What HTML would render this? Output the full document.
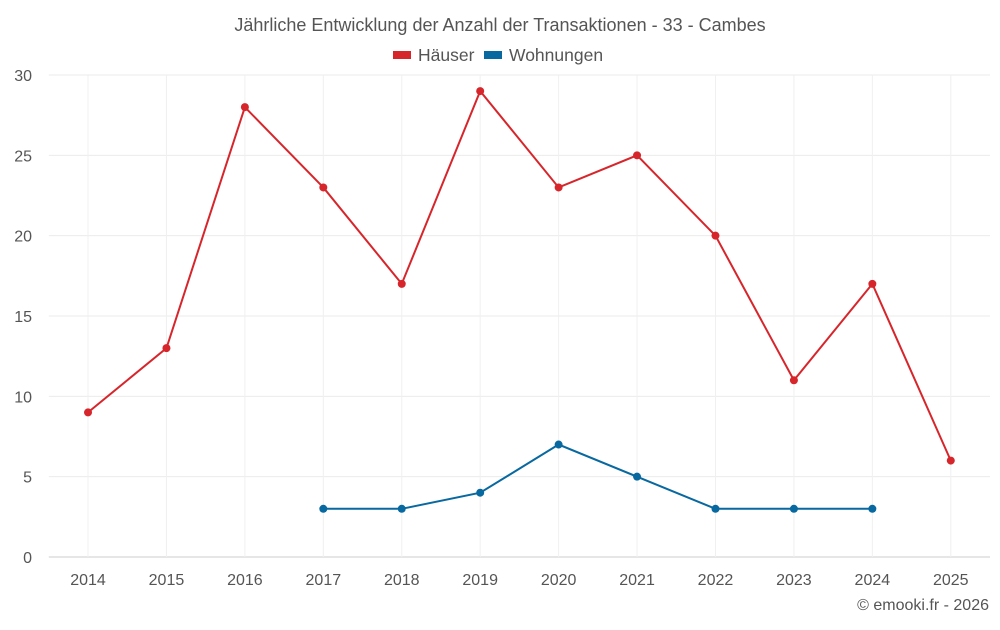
<!DOCTYPE html>
<html><head><meta charset="utf-8"><style>
body{margin:0;background:#fff;font-family:"Liberation Sans",sans-serif;}
svg text{font-family:"Liberation Sans",sans-serif;}
</style></head><body>
<svg id="c" width="1000" height="625" xmlns="http://www.w3.org/2000/svg">
<text x="500" y="31" text-anchor="middle" font-size="18" fill="#555">Jährliche Entwicklung der Anzahl der Transaktionen - 33 - Cambes</text>
<g>
<g><rect x="393" y="51" width="18" height="8" fill="#d7262b"/><text x="418" y="61" font-size="17.5" fill="#555">Häuser</text></g>
<g><rect x="484" y="51" width="18" height="8" fill="#0868a0"/><text x="509" y="61" font-size="17.5" fill="#555">Wohnungen</text></g>
</g>
<g id="grid"></g><g id="axes"></g><g id="series"></g>
<text x="989" y="610" text-anchor="end" font-size="16" fill="#555">© emooki.fr - 2026</text>
</svg>
<script>
const categories=["2014","2015","2016","2017","2018","2019","2020","2021","2022","2023","2024","2025"];
const hauser=[9,13,28,23,17,29,23,25,20,11,17,6];
const wohnungen=[null,null,null,3,3,4,7,5,3,3,3,null];
const yTicks=[0,5,10,15,20,25,30];
const NS="http://www.w3.org/2000/svg";
const L=48.8,R=990,T=75,B=557,yMax=30;
const step=(R-L)/categories.length;
const x=i=>L+step*(i+0.5);
const y=v=>B-(v/yMax)*(B-T);
function mk(tag,at,parent){const e=document.createElementNS(NS,tag);for(const k in at)e.setAttribute(k,at[k]);document.getElementById(parent).appendChild(e);return e;}
yTicks.forEach(t=>{
 const g=mk('line',{x1:L,x2:R,y1:y(t),y2:y(t),stroke:t===0?'#ccc':'#ebebeb','stroke-width':1},'grid');
 
 
 const tx=mk('text',{x:32,y:y(t)+6,'text-anchor':'end','font-size':16,fill:'#555'},'axes');tx.textContent=t;
 
 
});
categories.forEach((c,i)=>{
 const g=mk('line',{x1:x(i),x2:x(i),y1:T,y2:B,stroke:'#f0f0f0','stroke-width':1},'grid');
 
 
 const tx=mk('text',{x:x(i),y:585,'text-anchor':'middle','font-size':16,fill:'#555'},'axes');tx.textContent=c;
 
 
});
function series(data,color,name){
 let d='';let pen=false;
 data.forEach((v,i)=>{if(v==null){pen=false;return;}d+=(pen?'L':'M')+x(i)+' '+y(v)+' ';pen=true;});
 const p=mk('path',{d:d,fill:'none',stroke:color,'stroke-width':2},'series');
 
 
 data.forEach((v,i)=>{if(v==null)return;
  const c=mk('circle',{cx:x(i),cy:y(v),r:4,fill:color},'series');
  
  
 });
}
series(hauser,'#d7262b','hauser');
series(wohnungen,'#0868a0','wohnungen');
</script>
</body></html>
